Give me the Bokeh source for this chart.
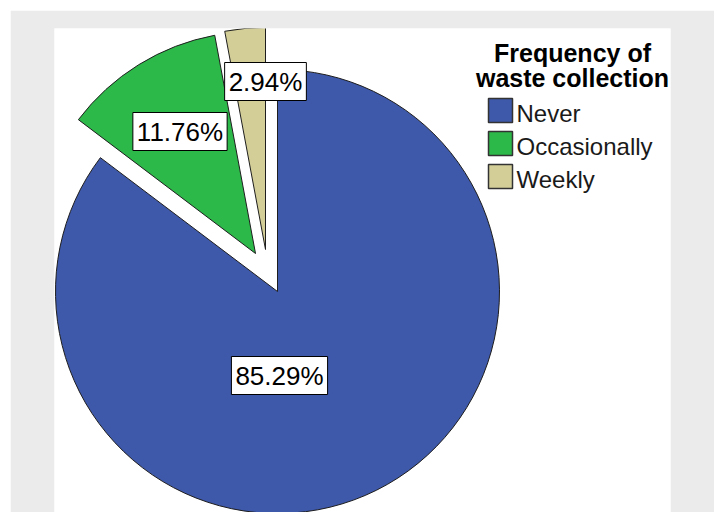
import math
from bokeh.plotting import figure
from bokeh.models import ColumnDataSource, Range1d, Label
from bokeh.embed import file_html
from bokeh.resources import INLINE
from bokeh.core.properties import value

# ---- data ----
categories = ["Never", "Occasionally", "Weekly"]
percents = [85.29, 11.76, 2.94]
labels = ["85.29%", "11.76%", "2.94%"]
colors = ["#3e58aa", "#2db84a", "#d3ce98"]
legend_title = ["Frequency of", "waste collection"]

# ---- layout constants (screen-like data units) ----
FRAME_L, FRAME_R, FRAME_T, FRAME_B = 54, 670, 28, 512
CX, CY = 277, 512 - 291
R = 222
explode = [(0, 0), (-22, 38), (-12, 42)]        # slice offsets
label_off = [(2, -84), (-75.5, 122), (0, 168)]   # label offsets from slice apex

p = figure(width=704, height=502, output_backend="svg", toolbar_location=None,
           x_axis_type=None, y_axis_type=None,
           x_range=Range1d(FRAME_L, FRAME_R), y_range=Range1d(0, FRAME_B - FRAME_T),
           min_border_left=44, min_border_right=44, min_border_top=18, min_border_bottom=0,
           margin=(10, 0, 0, 10))
p.grid.visible = False
p.outline_line_color = None
p.border_fill_color = "#ebebeb"
p.background_fill_color = "white"

total = sum(percents)
cum = 0.0
xs, ys, sa, ea = [], [], [], []
for i, v in enumerate(percents):
    c0 = cum / total
    cum += v
    c1 = cum / total
    sa.append(math.radians(90 - 360 * c1))
    ea.append(math.radians(90 - 360 * c0))
    xs.append(CX + explode[i][0])
    ys.append(CY + explode[i][1])

src = ColumnDataSource(dict(x=xs, y=ys, start=sa, end=ea, color=colors, cat=categories))
p.wedge(x="x", y="y", radius=R, start_angle="start", end_angle="end",
        fill_color="color", line_color="#1e1e1e", line_width=1, source=src)

for i, t in enumerate(labels):
    p.add_layout(Label(x=xs[i] + label_off[i][0], y=ys[i] + label_off[i][1], text=t,
                       text_align="center", text_baseline="middle",
                       text_font="Liberation Sans", text_font_size="26px", text_color="black",
                       background_fill_color="white", border_line_color="black",
                       border_line_width=1, padding=4))

# ---- legend ----
TX = 572
for j, line in enumerate(legend_title):
    p.add_layout(Label(x=TX, y=(FRAME_B - 52) - 25 * j, text=line,
                       text_align="center", text_baseline="alphabetic",
                       text_font="Liberation Sans", text_font_style="bold",
                       text_font_size="25px", text_color="black"))

LX = 500
ly = [(FRAME_B - 110) - 33 * i for i in range(len(categories))]
lsrc = ColumnDataSource(dict(x=[LX] * len(categories), y=ly, color=colors, cat=categories,
                             tx=[LX + 16] * len(categories), ty=[v - 3 for v in ly]))
p.rect(x="x", y="y", width=24, height=24, fill_color="color", line_color="#333333",
       line_width=1.5, source=lsrc)
p.text(x="tx", y="ty", text="cat", text_align="left", text_baseline="alphabetic",
       text_font=value("Liberation Sans"), text_font_size="24px", text_color="#1a1a1a",
       source=lsrc)

open("out.html", "w").write(file_html(p, INLINE))
